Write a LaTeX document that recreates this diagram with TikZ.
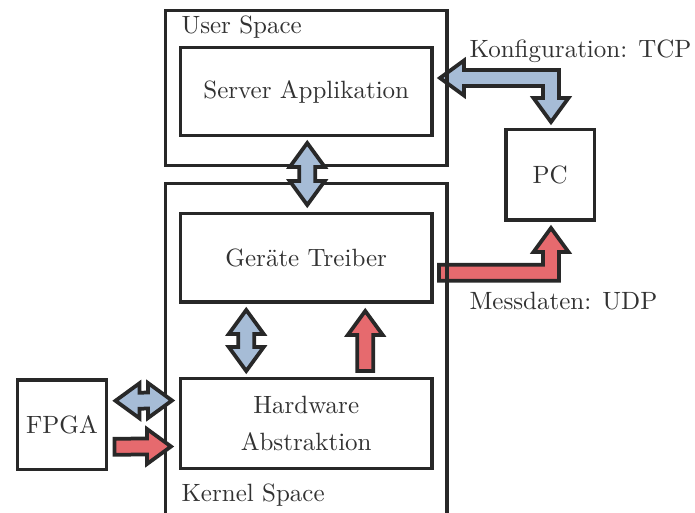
\documentclass[tikz,border=0pt]{standalone}
\usetikzlibrary{calc}

\definecolor{lineC}{RGB}{40,40,40}
\definecolor{textC}{RGB}{50,50,50}
\definecolor{blueF}{RGB}{166,188,214}
\definecolor{redF}{RGB}{230,106,110}

% fat arrow geometry (picture units)
\def\sw{8}    % half width of the shaft
\def\hw{17.5} % half width of the head
\def\hl{24}   % length of the head

% vertical two-headed arrow: top tip, bottom tip
\newcommand\fatVdouble[3]{%
  \draw[fat,fill=#1] (#2) -- ($(#2)+(\hw,\hl)$) -- ($(#2)+(\sw,\hl)$)
    -- ($(#3)+(\sw,-\hl)$) -- ($(#3)+(\hw,-\hl)$) -- (#3)
    -- ($(#3)+(-\hw,-\hl)$) -- ($(#3)+(-\sw,-\hl)$)
    -- ($(#2)+(-\sw,\hl)$) -- ($(#2)+(-\hw,\hl)$) -- cycle;}
% horizontal two-headed arrow: left tip, right tip
\newcommand\fatHdouble[3]{%
  \draw[fat,fill=#1] (#2) -- ($(#2)+(\hl,-\hw)$) -- ($(#2)+(\hl,-\sw)$)
    -- ($(#3)+(-\hl,-\sw)$) -- ($(#3)+(-\hl,-\hw)$) -- (#3)
    -- ($(#3)+(-\hl,\hw)$) -- ($(#3)+(-\hl,\sw)$)
    -- ($(#2)+(\hl,\sw)$) -- ($(#2)+(\hl,\hw)$) -- cycle;}
% upward arrow: tail, tip
\newcommand\fatUp[3]{%
  \draw[fat,fill=#1] ($(#2)+(-\sw,0)$) -- ($(#3)+(-\sw,\hl)$)
    -- ($(#3)+(-\hw,\hl)$) -- (#3) -- ($(#3)+(\hw,\hl)$)
    -- ($(#3)+(\sw,\hl)$) -- ($(#2)+(\sw,0)$) -- cycle;}
% rightward arrow: tail, tip
\newcommand\fatRight[3]{%
  \draw[fat,fill=#1] ($(#2)+(0,-\sw)$) -- ($(#3)+(-\hl,-\sw)$)
    -- ($(#3)+(-\hl,-\hw)$) -- (#3) -- ($(#3)+(-\hl,\hw)$)
    -- ($(#3)+(-\hl,\sw)$) -- ($(#2)+(0,\sw)$) -- cycle;}

\begin{document}
\begin{tikzpicture}[x=0.4pt,y=-0.4pt,
  every node/.style={text=textC},
  box/.style={draw=lineC,line width=1.5pt,rectangle,inner sep=0pt,
    outer sep=0pt,align=center,fill=white},
  frame/.style={draw=lineC,line width=1.5pt,rectangle,inner sep=0pt,outer sep=0pt},
  fat/.style={draw=lineC,line width=1.5pt,line join=miter},
  lbl/.style={anchor=base west,inner sep=0pt}]

\clip (0,0) rectangle (695,513);
\fill[white] (0,0) rectangle (695,513);

% software layers
\node[frame,minimum width=112.6pt,minimum height=62pt] (user) at (306.25,88) {};
\node[frame,minimum width=112.6pt,minimum height=150.6pt] (kernel) at (306.25,371.75) {};

\node[box,minimum width=100.6pt,minimum height=35.2pt] (server) at (306.25,91.5) {Server Applikation};
\node[box,minimum width=100.6pt,minimum height=35.4pt] (geraete) at (306.25,257.75) {Geräte Treiber};
\node[box,minimum width=100.6pt,minimum height=36pt] (hw) at (306.25,423.5) {Hardware\\[2.6pt]Abstraktion};
\node[box,minimum width=35.6pt,minimum height=35.8pt] (fpga) at (62,424.75) {FPGA};
\node[box,minimum width=35.4pt,minimum height=36.2pt] (pc) at (550.25,174.75) {PC};

\node[lbl] (ulbl) at (181,33) {User Space};
\node[lbl] (klbl) at (181,501) {Kernel Space};
\node[lbl] (tcp) at (469,58) {Konfiguration: TCP};
\node[lbl] (udp) at (469,310) {Messdaten: UDP};

% arrow end points
\coordinate (a1) at ($(server.south)+(1,7.5)$);
\coordinate (a2) at ($(geraete.north)+(1,-8.5)$);
\coordinate (b1) at ($(geraete.south)+(-60,8)$);
\coordinate (b2) at ($(hw.north)+(-60,-7.5)$);
\coordinate (c1) at ($(hw.north)+(59,-7.5)$);
\coordinate (c2) at ($(geraete.south)+(59,9)$);
\coordinate (d1) at ($(fpga.east)+(9,-24)$);
\coordinate (d2) at ($(hw.west)+(-8.5,-23)$);
\coordinate (e1) at ($(fpga.east)+(8,22)$);
\coordinate (e2) at ($(hw.west)+(-9.5,23)$);
\coordinate (f1) at ($(server.east)+(8,-13.5)$);
\coordinate (f2) at ($(pc.north)+(0.75,-7.5)$);
\coordinate (g1) at ($(geraete.east)+(7,15)$);
\coordinate (g2) at ($(pc.south)+(0.75,8)$);

% configuration link server <-> PC
\draw[fat,fill=blueF] (f1) -- ($(f1)+(\hl,-\hw)$) -- ($(f1)+(\hl,-\sw)$)
  -- ($(f1-|f2)+(\sw,-\sw)$) -- ($(f2)+(\sw,-\hl)$) -- ($(f2)+(\hw,-\hl)$)
  -- (f2) -- ($(f2)+(-\hw,-\hl)$) -- ($(f2)+(-\sw,-\hl)$)
  -- ($(f1-|f2)+(-\sw,\sw)$) -- ($(f1)+(\hl,\sw)$) -- ($(f1)+(\hl,\hw)$) -- cycle;

% measurement data driver -> PC
\draw[fat,fill=redF] ($(g1)+(0,-\sw)$) -- ($(g1-|g2)+(-\sw,-\sw)$)
  -- ($(g2)+(-\sw,\hl)$) -- ($(g2)+(-\hw,\hl)$) -- (g2)
  -- ($(g2)+(\hw,\hl)$) -- ($(g2)+(\sw,\hl)$)
  -- ($(g1-|g2)+(\sw,\sw)$) -- ($(g1)+(0,\sw)$) -- cycle;

% right edges of the layer frames run over the links
\draw[lineC,line width=1.5pt] (user.north east) -- (user.south east);
\draw[lineC,line width=1.5pt] (kernel.north east) -- (kernel.south east);

\fatVdouble{blueF}{a1}{a2}
\fatVdouble{blueF}{b1}{b2}
\fatUp{redF}{c1}{c2}
\fatHdouble{blueF}{d1}{d2}
\fatRight{redF}{e1}{e2}
\end{tikzpicture}
\end{document}
